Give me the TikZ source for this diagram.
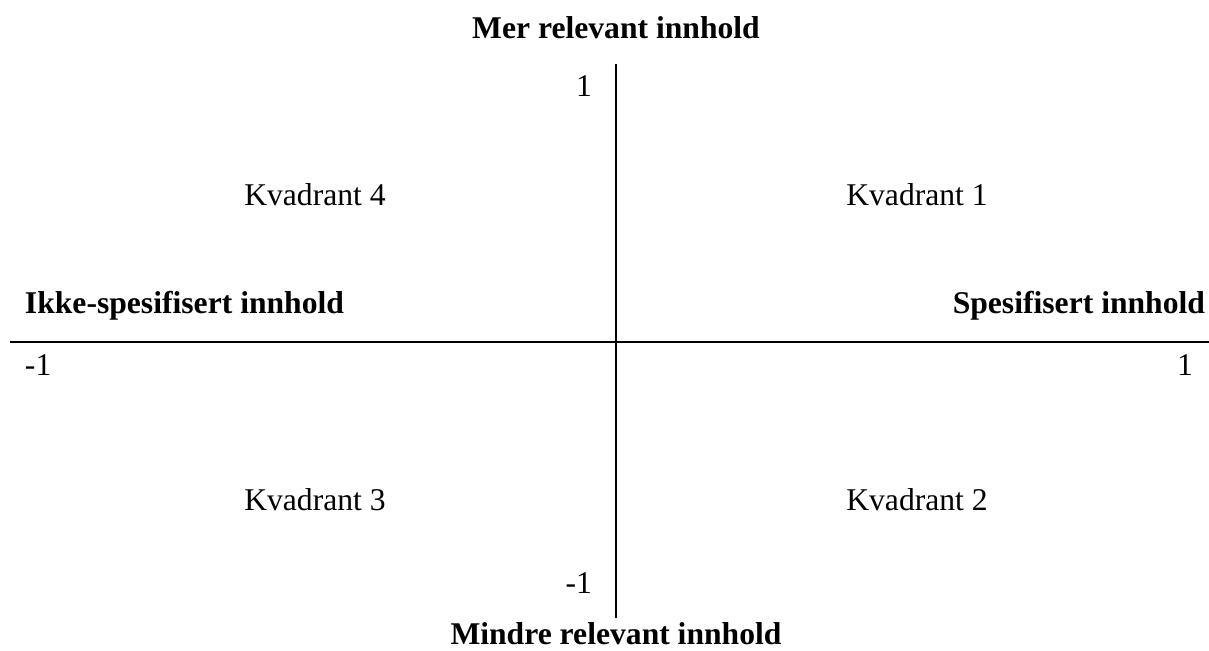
\documentclass[tikz,border=0pt]{standalone}
\usepackage{fontspec}
\setmainfont{Liberation Serif}

\begin{document}
\begin{tikzpicture}[x=.25mm,y=-.25mm,line width=.5mm]
\path[use as bounding box] (0,0) rectangle (1209,650);
\tikzset{lbl/.style={inner sep=0pt,font=\fontsize{22.5}{27}\selectfont},
  head/.style={lbl,font=\fontsize{22.5}{27}\selectfont\bfseries}}
% axes
\coordinate (top) at (616,64);
\coordinate (bottom) at (616,618);
\coordinate (left) at (10,342);
\coordinate (right) at (1209,342);
\draw (top) -- (bottom);
\draw (left) -- (right);
% axis titles
\node[head,anchor=base] (mer) at (616,38) {Mer relevant innhold};
\node[head,anchor=base] (mindre) at (616,644) {Mindre relevant innhold};
\node[head,anchor=base west] (ikke) at (24,313) {Ikke-spesifisert innhold};
\node[head,anchor=base east] (spes) at (1206,313) {Spesifisert innhold};
% scale ends
\node[lbl,anchor=base east] (ytop) at (593,96) {1};
\node[lbl,anchor=base east] (ybot) at (593,593) {-1};
\node[lbl,anchor=base west] (xleft) at (24,375) {-1};
\node[lbl,anchor=base east] (xright) at (1194,375) {1};
% quadrants
\node[lbl,anchor=base] (q4) at (315,205) {Kvadrant 4};
\node[lbl,anchor=base] (q1) at (917,205) {Kvadrant 1};
\node[lbl,anchor=base] (q3) at (315,510) {Kvadrant 3};
\node[lbl,anchor=base] (q2) at (917,510) {Kvadrant 2};
\end{tikzpicture}
\end{document}
